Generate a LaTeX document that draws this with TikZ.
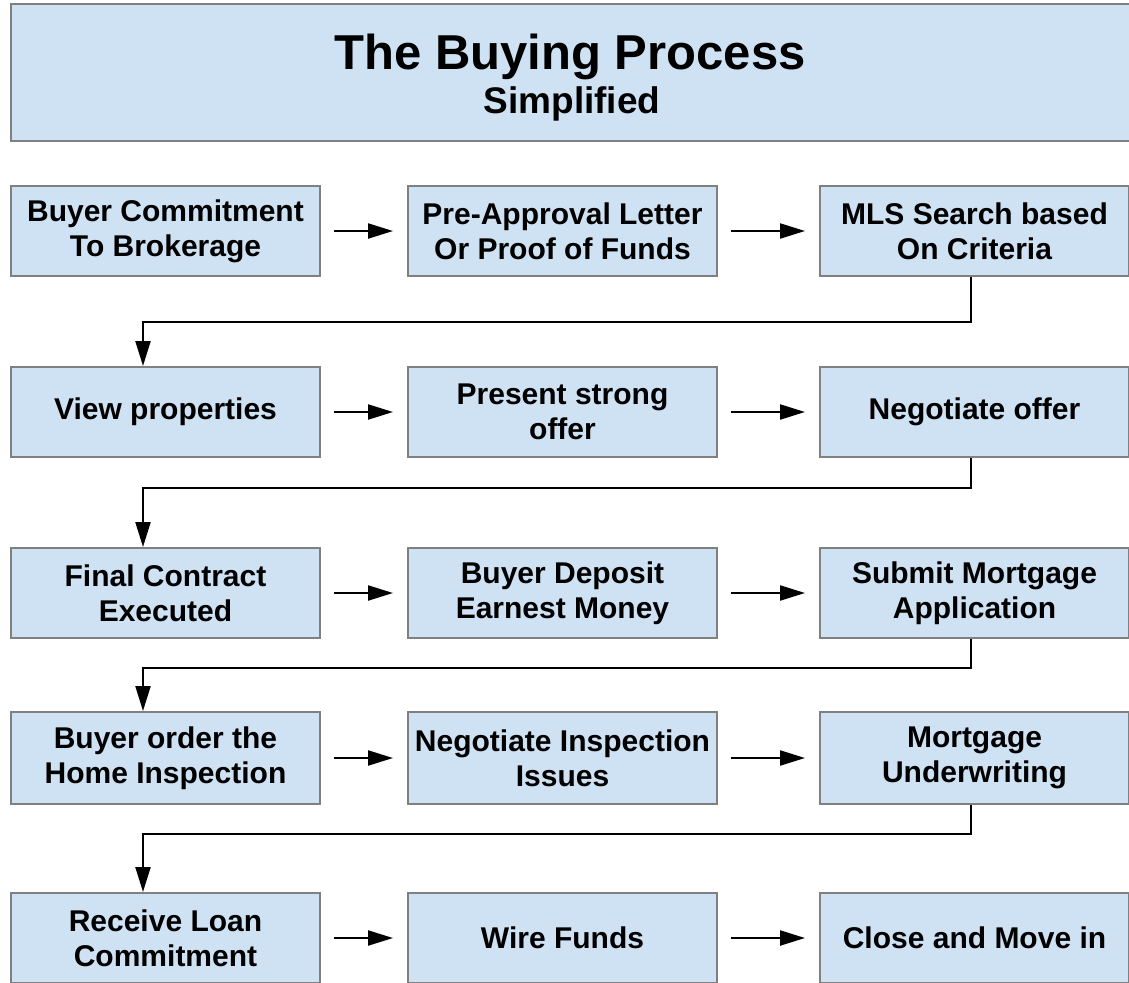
\documentclass[tikz,border=0pt]{standalone}
\usepackage{fontspec}
\setmainfont{Liberation Sans}
\usetikzlibrary{arrows.meta}
\definecolor{boxfill}{HTML}{CFE2F3}
\definecolor{boxline}{HTML}{808080}
\begin{document}
\begin{tikzpicture}[x=1pt,y=-1pt,
  stepbox/.style={draw=boxline, line width=2pt, fill=boxfill,
    minimum width=309pt, minimum height=90pt, inner sep=0pt, align=center,
    font=\fontsize{30}{35}\selectfont\bfseries},
  flow/.style={draw=black, line width=2.2pt,
    -{Triangle[length=25pt,width=15pt]}},
  next/.style={flow, shorten <=13pt, shorten >=14pt},
]
\useasboundingbox (0,0) rectangle (1129,982);
\clip (0,0) rectangle (1129,982);

% heading
\node[draw=boxline, line width=2pt, fill=boxfill, minimum width=1120pt,
  minimum height=137pt, inner sep=0pt] (titlebox) at (571,72.5) {};
\node[anchor=base, font=\fontsize{49}{55}\selectfont\bfseries] (title) at (570,70) {The Buying Process};
\node[anchor=base, font=\fontsize{37}{42}\selectfont\bfseries] (subtitle) at (572,113) {Simplified};

% row 1
\node[stepbox] (a1) at (165.5,231) {Buyer Commitment\\To Brokerage};
\node[stepbox] (a2) at (562.5,231) {Pre-Approval Letter\\Or Proof of Funds};
\node[stepbox] (a3) at (974.5,231) {MLS Search based\\On Criteria};
% row 2
\node[stepbox] (b1) at (165.5,412) {View properties};
\node[stepbox] (b2) at (562.5,412) {Present strong\\offer};
\node[stepbox] (b3) at (974.5,412) {Negotiate offer};
% row 3
\node[stepbox] (c1) at (165.5,593) {Final Contract\\Executed};
\node[stepbox] (c2) at (562.5,593) {Buyer Deposit\\Earnest Money};
\node[stepbox] (c3) at (974.5,593) {Submit Mortgage\\Application};
% row 4
\node[stepbox, minimum height=92pt] (d1) at (165.5,758) {Buyer order the\\Home Inspection};
\node[stepbox, minimum height=92pt] (d2) at (562.5,758) {Negotiate Inspection\\Issues};
\node[stepbox, minimum height=92pt] (d3) at (974.5,758) {Mortgage\\Underwriting};
% row 5
\node[stepbox] (e1) at (165.5,938) {Receive Loan\\Commitment};
\node[stepbox] (e2) at (562.5,938) {Wire Funds};
\node[stepbox] (e3) at (974.5,938) {Close and Move in};

% arrows along each row
\foreach \r in {a,b,c,d,e}{
  \draw[next] (\r1) -- (\r2);
  \draw[next] (\r2) -- (\r3);
}

% returns from the end of a row to the start of the next
\draw[flow] ([xshift=-3.5pt]a3.south) -- ++(0,45) -| ([xshift=-22.5pt]b1.north);
\draw[flow] ([xshift=-3.5pt]b3.south) -- ++(0,30) -| ([xshift=-22.5pt]c1.north);
\draw[flow] ([xshift=-3.5pt]c3.south) -- ++(0,29) -| ([xshift=-22.5pt]d1.north);
\draw[flow] ([xshift=-3.5pt]d3.south) -- ++(0,29) -| ([xshift=-22.5pt]e1.north);
\end{tikzpicture}
\end{document}
